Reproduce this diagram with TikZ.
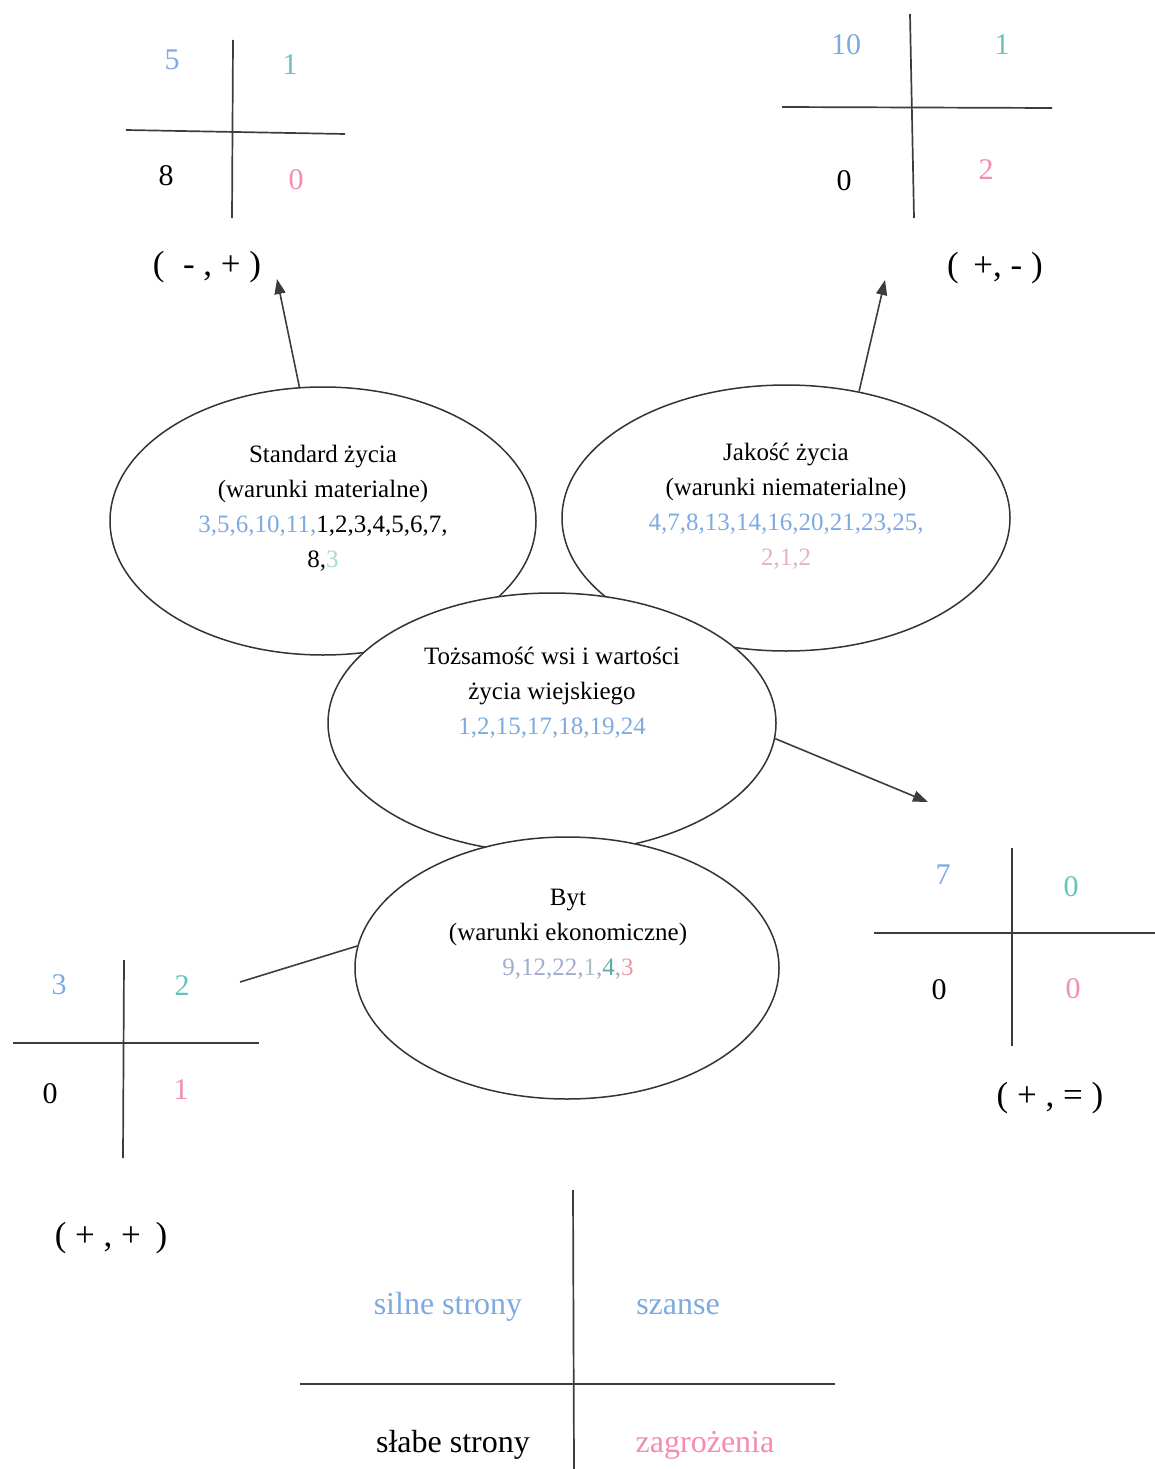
\documentclass[tikz,border=0pt]{standalone}
\usepackage{fontspec}
\setmainfont{Liberation Serif}
\usetikzlibrary{shapes.geometric,arrows.meta}
\definecolor{qblue}{RGB}{125,170,225}
\definecolor{qteal}{RGB}{100,195,190}
\definecolor{qpink}{RGB}{245,140,170}
\definecolor{fpink}{RGB}{228,180,195}
\definecolor{fteal}{RGB}{170,215,210}
\definecolor{fblue}{RGB}{160,172,208}
\definecolor{fgray}{RGB}{175,190,190}
\definecolor{fteal2}{RGB}{95,170,160}
\definecolor{fpink2}{RGB}{240,150,165}
\definecolor{linegray}{RGB}{60,60,60}
\begin{document}
\begin{tikzpicture}[x=1pt,y=-1pt,
  oval/.style={ellipse, draw=black!80, line width=1.5pt, fill=white, inner sep=0pt},
  etext/.style={font=\fontsize{25}{35}\selectfont, align=center, inner sep=0pt},
  qnum/.style={font=\fontsize{30}{36}\selectfont, inner sep=0pt},
  qlabel/.style={font=\fontsize{35}{40}\selectfont, inner sep=0pt},
  legtext/.style={font=\fontsize{32}{36}\selectfont, inner sep=0pt},
  crossline/.style={draw=linegray, line width=1.7pt},
  arr/.style={draw=linegray, line width=1.6pt, -{Triangle[length=15pt,width=11pt]}},
  plainline/.style={draw=linegray, line width=1.6pt}]
\useasboundingbox (0,0) rectangle (1155,1469);

% ellipses (drawn in stacking order)
\node[oval, minimum width=426pt, minimum height=268pt] (std) at (323,521) {};
\node[oval, minimum width=448pt, minimum height=266pt] (jak) at (786,518) {};
\node[oval, minimum width=448pt, minimum height=260pt] (toz) at (552,723) {};
\node[oval, minimum width=424pt, minimum height=262pt] (byt) at (567,968) {};

% ellipse texts
\node[etext] (stdtxt) at (323,508) {Standard życia\\(warunki materialne)\\
  \textcolor{qblue}{3,5,6,10,11,}1,2,3,4,5,6,7,\\8,\textcolor{fteal}{3}};
\node[etext] (jaktxt) at (786,506) {Jakość życia\\(warunki niematerialne)\\
  \textcolor{qblue}{4,7,8,13,14,16,20,21,23,25,}\\\textcolor{fpink}{2,1,2}};
\node[etext] (toztxt) at (552,693) {Tożsamość wsi i wartości\\życia wiejskiego\\
  \textcolor{qblue}{1,2,15,17,18,19,24}};
\node[etext] (byttxt) at (568,934) {Byt\\(warunki ekonomiczne)\\
  \textcolor{fblue}{9,12,22,}\textcolor{fgray}{1}\textcolor{fblue}{,}\textcolor{fteal2}{4}\textcolor{fblue}{,}\textcolor{fpink2}{3}};

% connector endpoints
\coordinate (tipTL) at (277,279);
\coordinate (tipTR) at (885,280);
\coordinate (tipRM) at (928,802);
\coordinate (endBL) at (240,982);

\draw[arr] (std.100) -- (tipTL);
\draw[arr] (jak.60) -- (tipTR);
\draw[arr] (toz.-4) -- (tipRM);
\draw[plainline] (byt.174) -- (endBL);

% top-left cross
\draw[crossline] (233,40) -- (232,218);
\draw[crossline] (126,130) -- (345,134);
\node[qnum, text=qblue] (tl1) at (172,60) {5};
\node[qnum, text=qteal] (tl2) at (290,65) {1};
\node[qnum] (tl3) at (166,176) {8};
\node[qnum, text=qpink] (tl4) at (296,180) {0};
\node[qlabel] (tllab) at (207,267) {(\; - , + )};

% top-right cross
\draw[crossline] (910,14) -- (914,218);
\draw[crossline] (782,107) -- (1052,108);
\node[qnum, text=qblue] (tr1) at (846,45) {10};
\node[qnum, text=qteal] (tr2) at (1002,45) {1};
\node[qnum] (tr3) at (844,181) {0};
\node[qnum, text=qpink] (tr4) at (986,170) {2};
\node[qlabel] (trlab) at (995,268) {(\, +, - )};

% right-middle cross
\draw[crossline] (1012,848) -- (1012,1046);
\draw[crossline] (874,933) -- (1155,933);
\node[qnum, text=qblue] (rm1) at (943,875) {7};
\node[qnum, text=qteal] (rm2) at (1071,887) {0};
\node[qnum] (rm3) at (939,990) {0};
\node[qnum, text=qpink] (rm4) at (1073,989) {0};
\node[qlabel] (rmlab) at (1050,1098) {( + , = )};

% bottom-left cross
\draw[crossline] (124,960) -- (123,1158);
\draw[crossline] (13,1043) -- (259,1043);
\node[qnum, text=qblue] (bl1) at (59,985) {3};
\node[qnum, text=qteal] (bl2) at (182,986) {2};
\node[qnum] (bl3) at (50,1094) {0};
\node[qnum, text=qpink] (bl4) at (181,1090) {1};
\node[qlabel] (bllab) at (111,1238) {( + , +\, )};

% legend cross
\draw[crossline] (573,1190) -- (574,1469);
\draw[crossline] (300,1384) -- (835,1384);
\node[legtext, text=qblue] (lg1) at (448,1307) {silne strony};
\node[legtext, text=qblue] (lg2) at (678,1307) {szanse};
\node[legtext] (lg3) at (453,1445) {słabe strony};
\node[legtext, text=qpink] (lg4) at (705,1445) {zagrożenia};
\end{tikzpicture}
\end{document}
